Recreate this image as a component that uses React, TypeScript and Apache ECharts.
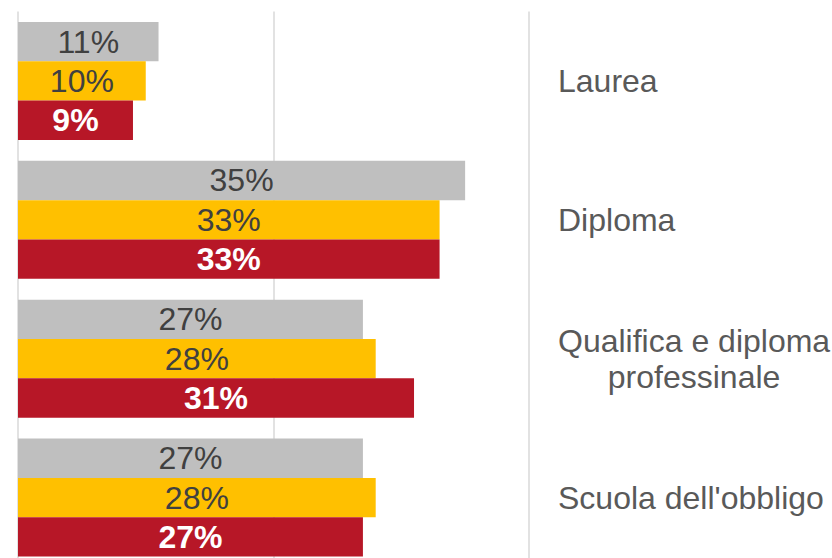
import React, { useEffect, useRef } from "react";
import * as echarts from "echarts";

const categories = ["Laurea", "Diploma", "Qualifica e diploma\nprofessinale", "Scuola dell'obbligo"];
const seriesGrey = [11, 35, 27, 27];
const seriesYellow = [10, 33, 28, 28];
const seriesRed = [9, 33, 31, 27];
const xTicks = [0, 20, 40];

export default function App() {
  const ref = useRef<HTMLDivElement>(null);
  useEffect(() => {
    if (!ref.current) return;
    const chart = echarts.init(ref.current, null, { renderer: "svg" });
    const font = "'Liberation Sans', Arial, sans-serif";
    const mkSeries = (name: string, data: number[], color: string, labelColor: string, bold: boolean) => ({
      name,
      type: "bar",
      data,
      barGap: "0%",
      barCategoryGap: "15%",
      itemStyle: { color },
      label: {
        show: true,
        position: "inside",
        formatter: "{c}%",
        color: labelColor,
        fontSize: 32,
        fontWeight: bold ? "bold" : "normal",
        fontFamily: font,
      },
    });
    chart.setOption({
      animation: false,
      grid: { left: 18, right: 303, top: 11.5, height: 555.5, outerBoundsMode: "none", containLabel: false },
      xAxis: {
        type: "value",
        min: xTicks[0],
        max: xTicks[xTicks.length - 1],
        interval: 20,
        axisLabel: { show: false },
        axisLine: { show: false },
        axisTick: { show: false },
        splitLine: { show: true, lineStyle: { color: "#d9d9d9", width: 1.5 } },
      },
      yAxis: {
        type: "category",
        data: categories,
        inverse: true,
        position: "right",
        axisLine: { show: false },
        axisTick: { show: false },
        axisLabel: {
          margin: 29,
          align: "left",
          formatter: (v: string) =>
            v
              .split("\n")
              .map((l) => "{c|" + l + "}")
              .join("\n"),
          rich: {
            c: {
              align: "center",
              fontSize: 32,
              lineHeight: 36,
              color: "#595959",
              fontFamily: font,
            },
          },
        },
      },
      series: [
        mkSeries("A", seriesGrey, "#BFBFBF", "#404040", false),
        mkSeries("B", seriesYellow, "#FFC000", "#404040", false),
        mkSeries("C", seriesRed, "#B71727", "#ffffff", true),
      ],
    });
    return () => chart.dispose();
  }, []);
  return <div ref={ref} style={{ width: 832, height: 558, position: "absolute", left: 0, top: 0 }} />;
}
